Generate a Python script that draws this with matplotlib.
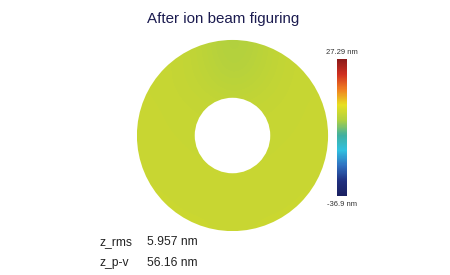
import numpy as np
import matplotlib
matplotlib.use("Agg")
import matplotlib.pyplot as plt
from matplotlib.colors import LinearSegmentedColormap
from matplotlib.patches import Circle

plt.rcParams['font.family'] = ['Liberation Sans', 'DejaVu Sans']

# surface height map (nm), coarse grid
z_grid = np.array([
    [1.7, 1.5, 0.3, -1.4, 0.0, 1.4, 1.7],
    [1.7, 1.4, 0.7, -0.4, 0.5, 1.5, 1.7],
    [1.8, 1.6, 1.4, 1.2, 1.4, 1.6, 1.8],
    [1.8, 1.7, 1.6, 1.6, 1.6, 1.7, 1.8],
    [1.9, 1.8, 1.7, 1.7, 1.7, 1.8, 1.9],
    [2.0, 1.9, 1.8, 1.8, 1.8, 1.9, 2.0],
    [2.1, 2.0, 2.0, 1.9, 2.0, 2.0, 2.1],
])
z_min = -36.9
z_max = 27.29
z_rms = "5.957 nm"
z_pv = "56.16 nm"
inner_ratio = 0.395

cbar_colors = ['#1a2060', '#203080', '#3070c0', '#30c0e0', '#40b0a0',
               '#b0d040', '#e8e020', '#f08020', '#d03020', '#8b1a1a']
cmap = LinearSegmentedColormap.from_list('surf', cbar_colors)

fig = plt.figure(figsize=(4.5, 2.75), dpi=100)
fig.patch.set_facecolor('white')

ax = fig.add_axes([0.3, 0.1527, 0.4333, 0.709])
im = ax.imshow(z_grid, cmap=cmap, vmin=z_min, vmax=z_max,
               extent=[-1, 1, -1, 1], interpolation='bicubic', origin='upper')
outer = Circle((0, 0), 1.0, transform=ax.transData)
im.set_clip_path(outer)
ax.add_patch(Circle((0, 0), inner_ratio, facecolor='white', edgecolor='none'))
ax.set_xlim(-1.02, 1.02)
ax.set_ylim(-1.02, 1.02)
ax.set_aspect('equal')
ax.axis('off')

cax = fig.add_axes([0.749, 0.287, 0.0222, 0.498])
cb = fig.colorbar(im, cax=cax)
cb.set_ticks([])
cb.outline.set_visible(False)

fig.text(0.496, 0.93, "After ion beam figuring", ha='center', va='center',
         fontsize=10.9, color='#1c1c50')
fig.text(0.76, 0.81, "%.2f nm" % z_max, ha='center', va='center',
         fontsize=5.5, color='#333333')
fig.text(0.76, 0.258, "%.1f nm" % z_min, ha='center', va='center',
         fontsize=5.5, color='#333333')

fig.text(0.222, 0.12, "z_rms", ha='left', va='center', fontsize=8.7, color='#222222')
fig.text(0.327, 0.12, z_rms, ha='left', va='center', fontsize=8.7, color='#222222')
fig.text(0.222, 0.043, "z_p-v", ha='left', va='center', fontsize=8.7, color='#222222')
fig.text(0.327, 0.043, z_pv, ha='left', va='center', fontsize=8.7, color='#222222')

fig.savefig("out.png", dpi=100, facecolor='white')
